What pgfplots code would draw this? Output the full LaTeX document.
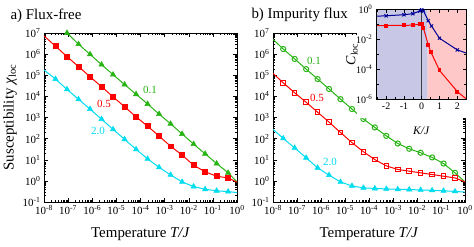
\documentclass[border=0pt]{standalone}
\usepackage{pgfplots}
\pgfplotsset{compat=1.18}
\usepackage{fontspec}
\setmainfont{Liberation Serif}
\definecolor{cgreen}{RGB}{40,180,20}
\definecolor{cred}{RGB}{255,0,0}
\definecolor{ccyan}{RGB}{0,220,240}
\definecolor{cnavy}{RGB}{0,0,150}
\definecolor{lav}{RGB}{200,200,230}
\definecolor{pinkish}{RGB}{255,200,200}
\newcommand{\tl}[1]{10\textsuperscript{#1}}
\begin{document}
\begin{tikzpicture}
\useasboundingbox (0,0) rectangle (474bp,247bp);
% ---------- panel a
\begin{axis}[at={(44bp,45bp)}, anchor=south west, width=193bp,
  scale only axis, height=169bp,
  xmode=log, ymode=log, xmin=1e-8, xmax=1, ymin=0.1, ymax=1e7,
  xtick={1e-8,1e-7,1e-6,1e-5,1e-4,1e-3,1e-2,1e-1,1},
  xticklabels={\tl{-8},\tl{-7},\tl{-6},\tl{-5},\tl{-4},\tl{-3},\tl{-2},\tl{-1},\tl{0}},
  ytick={1e-1,1,10,100,1000,1e4,1e5,1e6,1e7},
  yticklabels={\tl{-1},\tl{0},\tl{1},\tl{2},\tl{3},\tl{4},\tl{5},\tl{6},\tl{7}},
  tick label style={font=\fontsize{11}{11}\selectfont},
  xlabel={Temperature \textit{T/J}},
  every axis x label/.style={at={(axis description cs:0.5,-0.189)}, anchor=center, font=\fontsize{15}{15}\selectfont},
  clip mode=individual,
  axis line style={line width=0.6pt},
  tick style={line width=0.5pt, black},
  major tick length=4bp, minor tick length=2.2bp,
  ylabel={Susceptibility \textit{χ}\textsubscript{loc}},
  every axis y label/.style={at={(axis description cs:-0.176,0.5)}, rotate=90, anchor=center, font=\fontsize{15}{15}\selectfont}]
\addplot[cgreen, line width=1pt, mark=triangle*, mark size=3.1pt, mark options={solid, fill=cgreen, line width=0.5pt},
  mark indices={1,2,3,4,5,6,7,8,9,10,11,12,13,14,15}] table {
x y
9e-8 1.0e7
2.7e-7 2.95e6
8.1e-7 9.8e5
2.43e-6 3.16e5
7.29e-6 1.07e5
2.187e-5 3.63e4
6.561e-5 1.26e4
1.9683e-4 4.37e3
5.9049e-4 1.45e3
1.7715e-3 501
5.3144e-3 166
1.5943e-2 55
4.783e-2 19.1
0.14349 6.6
0.43047 2.4
1 0.90
};
\addplot[cred, line width=1pt, mark=square*, mark size=2.5pt, mark options={solid, fill=cred, line width=0.5pt},
  mark indices={2,3,4,5,6,7,8,9,10,11,12,13,14,15,16,17}] table {
x y
1e-8 7.24e6
3e-8 2.4e6
9e-8 7.6e5
2.7e-7 2.57e5
8.1e-7 8.5e4
2.43e-6 2.88e4
7.29e-6 9.5e3
2.187e-5 3.24e3
6.561e-5 1.07e3
1.9683e-4 389
5.9049e-4 132
1.7715e-3 43.6
5.3144e-3 16.6
1.5943e-2 5.5
4.783e-2 2.69
0.14349 1.66
0.43047 1.38
1 0.87
};
\addplot[ccyan, line width=1pt, mark=triangle*, mark size=3.1pt, mark options={solid, fill=ccyan, line width=0.5pt},
  mark indices={2,3,4,5,6,7,8,9,10,11,12,13,14,15,16,17}] table {
x y
1e-8 1.78e5
3e-8 6.6e4
9e-8 2.14e4
2.7e-7 7.24e3
8.1e-7 2.51e3
2.43e-6 832
7.29e-6 275
2.187e-5 93
6.561e-5 31
1.9683e-4 11
5.9049e-4 4.37
1.7715e-3 1.91
5.3144e-3 0.89
1.5943e-2 0.54
4.783e-2 0.40
0.14349 0.34
0.43047 0.31
1 0.28
};
\end{axis}
% ---------- panel b
\begin{axis}[at={(273bp,45bp)}, anchor=south west, width=192bp,
  scale only axis, height=169bp,
  xmode=log, ymode=log, xmin=1e-8, xmax=1, ymin=0.1, ymax=1e7,
  xtick={1e-8,1e-7,1e-6,1e-5,1e-4,1e-3,1e-2,1e-1,1},
  xticklabels={\tl{-8},\tl{-7},\tl{-6},\tl{-5},\tl{-4},\tl{-3},\tl{-2},\tl{-1},\tl{0}},
  ytick={1e-1,1,10,100,1000,1e4,1e5,1e6,1e7},
  yticklabels={\tl{-1},\tl{0},\tl{1},\tl{2},\tl{3},\tl{4},\tl{5},\tl{6},\tl{7}},
  tick label style={font=\fontsize{11}{11}\selectfont},
  xlabel={Temperature \textit{T/J}},
  every axis x label/.style={at={(axis description cs:0.5,-0.189)}, anchor=center, font=\fontsize{15}{15}\selectfont},
  clip mode=individual,
  axis line style={line width=0.6pt},
  tick style={line width=0.5pt, black},
  major tick length=4bp, minor tick length=2.2bp]
\addplot[cgreen, line width=1pt, mark=o, mark size=2.6pt, mark options={solid, line width=1pt},
  mark indices={2,3,4,5,6,7,8,9,10,11,12,13,14,15,16,17}] table {
x y
1e-8 5.0e6
2.67e-8 1.74e6
8.02e-8 5.9e5
2.41e-7 1.95e5
7.22e-7 6.6e4
2.17e-6 2.24e4
6.5e-6 7.4e3
1.95e-5 2.51e3
5.85e-5 851
1.75e-4 339
5.26e-4 135
1.58e-3 58.9
4.74e-3 33.1
1.42e-2 21.4
4.26e-2 12.9
0.128 6.6
0.384 2.4
1 0.89
};
\addplot[cred, line width=1pt, mark=square, mark size=2.3pt, mark options={solid, line width=1pt},
  mark indices={2,3,4,5,6,7,8,9,10,11,12,13,14,15,16,17}] table {
x y
1e-8 1.23e5
2.67e-8 4.37e4
8.02e-8 1.48e4
2.41e-7 5.25e3
7.22e-7 1.78e3
2.17e-6 603
6.5e-6 195
1.95e-5 64.6
5.85e-5 24
1.75e-4 10.2
5.26e-4 5.13
1.58e-3 3.47
4.74e-3 2.88
1.42e-2 2.4
4.26e-2 2.0
0.128 1.66
0.384 1.38
1 0.89
};
\addplot[ccyan, line width=1pt, mark=triangle*, mark size=3.1pt, mark options={solid, fill=ccyan, line width=0.5pt},
  mark indices={2,3,4,5,6,7,8,9,10,11,12,13,14,15,16,17}] table {
x y
1e-8 275
2.67e-8 102
8.02e-8 36.3
2.41e-7 12.3
7.22e-7 4.17
2.17e-6 1.86
6.5e-6 0.89
1.95e-5 0.575
5.85e-5 0.468
1.75e-4 0.437
5.26e-4 0.417
1.58e-3 0.398
4.74e-3 0.389
1.42e-2 0.372
4.26e-2 0.355
0.128 0.339
0.384 0.316
1 0.295
};
\end{axis}
% ---------- labels
\node[anchor=base west, font=\fontsize{15}{15}\selectfont] at (7bp,227bp) {a) Flux-free};
\node[anchor=base west, font=\fontsize{15}{15}\selectfont] at (248bp,228.5bp) {b) Impurity flux};
\node[font=\fontsize{11}{11}\selectfont, text=cgreen] at (150bp,157bp) {0.1};
\node[font=\fontsize{11}{11}\selectfont, text=cred] at (104bp,143bp) {0.5};
\node[font=\fontsize{11}{11}\selectfont, text=ccyan] at (98bp,116bp) {2.0};
\node[font=\fontsize{11}{11}\selectfont, text=cgreen] at (314bp,186bp) {0.1};
\node[font=\fontsize{11}{11}\selectfont, text=cred] at (317bp,149bp) {0.5};
\node[font=\fontsize{11}{11}\selectfont, text=ccyan] at (330bp,85bp) {2.0};
% ---------- inset
\fill[white] (357bp,129bp) rectangle (474bp,247bp);
\begin{axis}[at={(376bp,147.7bp)}, anchor=south west, scale only axis,
  width=90.7bp, height=89.8bp, axis on top,
  xmin=-2.57, xmax=2.53, ymode=log, ymin=1e-6, ymax=1,
  xtick={-2,-1,0,1,2}, xticklabels={-2,-1,0,1,2},
  minor xtick={-2.5,-1.5,-0.5,0.5,1.5,2.5},
  ytick={1e-6,1e-4,1e-2,1}, yticklabels={\tl{-6},\tl{-4},\tl{-2},\tl{0}},
  minor ytick={1e-5,1e-3,1e-1},
  tick label style={font=\fontsize{10}{10}\selectfont},
  axis line style={line width=0.6pt},
  tick style={line width=0.5pt, black},
  major tick length=3.5bp, minor tick length=2.5bp,
  xlabel={\textit{K/J}}, ylabel={\textit{C}\textsubscript{loc}},
  every axis x label/.style={at={(axis description cs:0.5,-0.345)}, anchor=center, font=\fontsize{11.5}{11.5}\selectfont},
  every axis y label/.style={at={(axis description cs:-0.265,0.5)}, rotate=90, anchor=center, font=\fontsize{14}{14}\selectfont},
]
\addplot[fill=lav, draw=none] coordinates {(-2.57,1e-6) (0.33,1e-6) (0.33,1) (-2.57,1) (-2.57,1e-6)};
\addplot[fill=pinkish, draw=none] coordinates {(0.33,1e-6) (2.53,1e-6) (2.53,1) (0.33,1) (0.33,1e-6)};
\addplot[black!75, line width=0.7pt] coordinates {(0,1e-6) (0,1)};
\addplot[cnavy, line width=1pt, mark=x, mark size=2.3pt, mark options={solid, line width=0.9pt},
  mark indices={2,3,4,5,6,7,8,9,10,11}] table {
x y
-2.57 0.355
-2 0.38
-1 0.447
-0.5 0.525
-0.1 0.80
0 0.95
0.1 0.80
0.37 0.178
0.55 0.079
1 0.012
2 0.002
2.53 0.0012
};
\addplot[cred, line width=1pt, mark=square*, mark size=1.5pt, mark options={solid, fill=cred},
  mark indices={2,3,4,5,6,7,8,9,10,11}] table {
x y
-2.57 0.085
-2 0.085
-1 0.087
-0.5 0.09
-0.1 0.105
0 0.11
0.1 0.055
0.37 0.0043
0.52 0.0014
1 8.5e-5
2 3.3e-6
2.53 1e-6
};
\end{axis}
\end{tikzpicture}
\end{document}
